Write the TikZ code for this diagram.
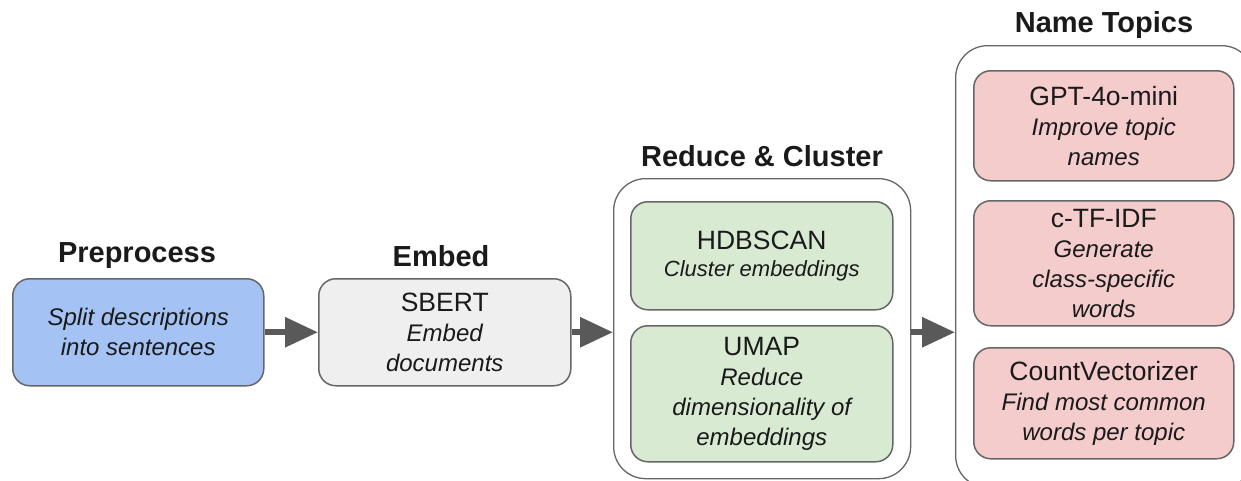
\documentclass[tikz,border=0pt]{standalone}
\usepackage{fontspec}
\setmainfont{Liberation Sans}
\usetikzlibrary{arrows.meta,positioning}
\definecolor{stageblue}{HTML}{A4C2F4}
\definecolor{stagegrey}{HTML}{EFEFEF}
\definecolor{stagegreen}{HTML}{D9EAD3}
\definecolor{stagepink}{HTML}{F4CCCC}
\definecolor{edgegrey}{HTML}{666666}
\definecolor{arrowgrey}{HTML}{595959}
\definecolor{ink}{HTML}{1A1A1A}
\tikzset{
  box/.style={draw=edgegrey, line width=1.5pt, rounded corners=17pt, align=center,
    text=ink, font=\fontsize{24}{30}\selectfont, inner sep=0pt, anchor=north west},
  group/.style={draw=edgegrey, line width=1.3pt, rounded corners=32pt, fill=white},
  title/.style={text=ink, font=\fontsize{29}{32}\selectfont\bfseries},
  flow/.style={draw=arrowgrey, line width=6pt, -{Triangle[length=33pt,width=29pt]}}
}
\newcommand{\steptitle}[1]{{\fontsize{26.5}{30}\selectfont #1}}
\begin{document}
\begin{tikzpicture}[x=1pt,y=-1pt]
\useasboundingbox (0,0) rectangle (1241,480);
\clip (0,0) rectangle (1241,480);

% stage titles
\node[title] (tpre) at (137,256) {Preprocess};
\node[title] (temb) at (441,256) {Embed};
\node[title] (trc) at (762,156) {Reduce \& Cluster};
\node[title] (tnt) at (1104,25) {Name Topics};

% group frames
\node[group, anchor=north west, minimum width=297pt, minimum height=300pt] (rc) at (613,178) {};
\node[group, anchor=north west, minimum width=298pt, minimum height=442pt] (nt) at (955,45) {};

% single-step stages
\node[box, fill=stageblue, minimum width=251pt, minimum height=107pt] (pre) at (12,278)
  {\itshape Split descriptions\\\itshape into sentences};
\node[box, fill=stagegrey, minimum width=252pt, minimum height=107pt] (emb) at (318,278)
  {\steptitle{SBERT}\\\itshape Embed\\\itshape documents};

% reduce & cluster steps
\node[box, fill=stagegreen, minimum width=262pt, minimum height=108pt] (hdb) at (630,201)
  {\steptitle{HDBSCAN}\\[-3pt]{\fontsize{22}{26}\selectfont\itshape Cluster embeddings}};
\node[box, fill=stagegreen, minimum width=262pt, minimum height=136pt] (umap) at (630,325)
  {\steptitle{UMAP}\\\itshape Reduce\\\itshape dimensionality of\\\itshape embeddings};

% naming steps
\node[box, fill=stagepink, minimum width=260pt, minimum height=110pt] (gpt) at (973,70)
  {\steptitle{GPT-4o-mini}\\\itshape Improve topic\\\itshape names};
\node[box, fill=stagepink, minimum width=260pt, minimum height=125pt] (ctf) at (973,200)
  {\steptitle{c-TF-IDF}\\\itshape Generate\\\itshape class-specific\\\itshape words};
\node[box, fill=stagepink, minimum width=260pt, minimum height=111pt] (cv) at (973,347)
  {\steptitle{CountVectorizer}\\\itshape Find most common\\\itshape words per topic};

% flow between stages
\draw[flow] (pre.east) -- (emb.west);
\draw[flow] (emb.east) -- (rc.west |- emb.east);
\draw[flow] (rc.east |- emb.east) -- (nt.west |- emb.east);
\end{tikzpicture}
\end{document}
